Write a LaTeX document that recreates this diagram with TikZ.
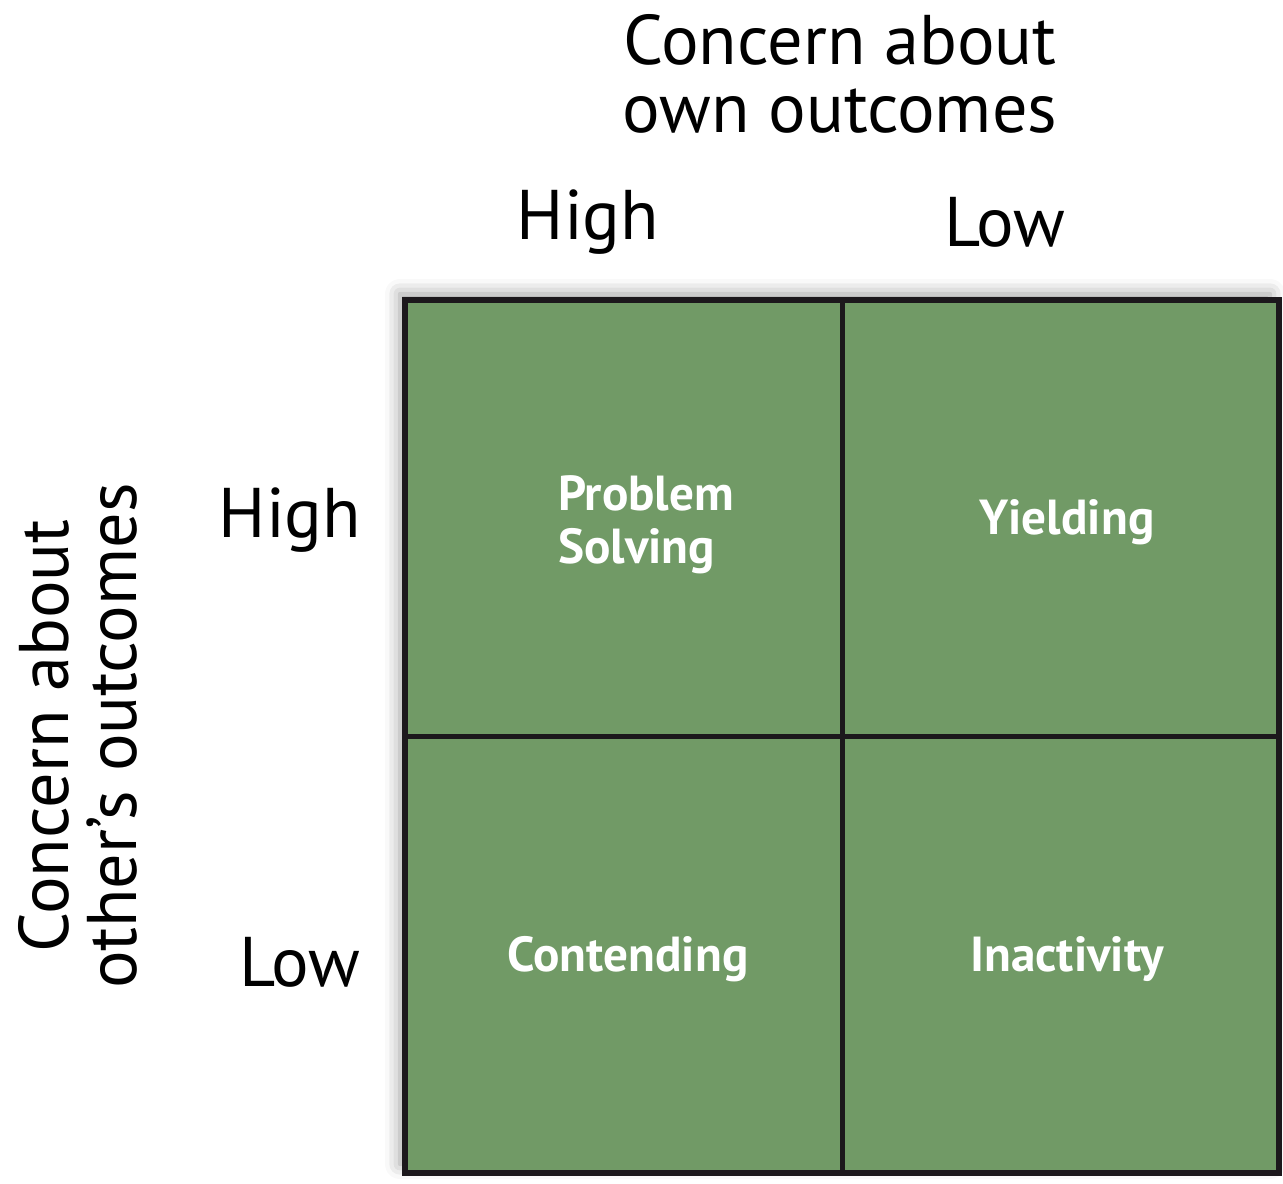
\documentclass[tikz,border=0pt]{standalone}
\usepackage{fontspec}
\setmainfont{PT Sans}
\usetikzlibrary{shadows.blur}

\begin{document}
\begin{tikzpicture}[x=0.2mm,y=0.2mm]
  \definecolor{cgreen}{RGB}{113,154,102}
  \definecolor{cline}{RGB}{28,24,28}
  \tikzset{
    cell/.style={draw=cline,line width=1mm,fill=cgreen,minimum width=87.4mm,minimum height=87.2mm,inner sep=0pt,outer sep=0pt},
    axis/.style={font=\fontsize{40}{39}\selectfont,align=center,text=black},
    lab/.style={font=\fontsize{28}{30}\selectfont\bfseries,text=white,align=left}
  }
  \useasboundingbox (0,0) rectangle (1283,-1184);
  % shadow and frame
  \fill[white,blur shadow={shadow xshift=-1.6mm,shadow yshift=1.6mm,shadow blur radius=3mm,shadow opacity=40}]
    (408,-302) rectangle (1278,-1172);
  \node[cell] (hh) at (623.5,-518.5) {};
  \node[cell] (lh) at (1060.5,-518.5) {};
  \node[cell] (hl) at (623.5,-954.5) {};
  \node[cell] (ll) at (1060.5,-954.5) {};
  \draw[cline,line width=1.2mm] (hh.north west) rectangle (ll.south east);
  % cell labels
  \node[lab] (ps) at (646,-525) {Problem\\Solving};
  \node[lab] (yi) at (1067,-522) {Yielding};
  \node[lab] (co) at (628,-959) {Contending};
  \node[lab] (in) at (1067,-959) {Inactivity};
  % axis titles
  \node[axis] (own) at (840,-74) {Concern about\\own outcomes};
  \node[axis] (ownh) at (588,-222) {High};
  \node[axis] (ownl) at (1005,-222) {Low};
  \node[axis,rotate=90] (oth) at (78,-736) {Concern about\\other's outcomes};
  \node[axis] (othh) at (290,-520) {High};
  \node[axis] (othl) at (300,-962) {Low};
\end{tikzpicture}
\end{document}
